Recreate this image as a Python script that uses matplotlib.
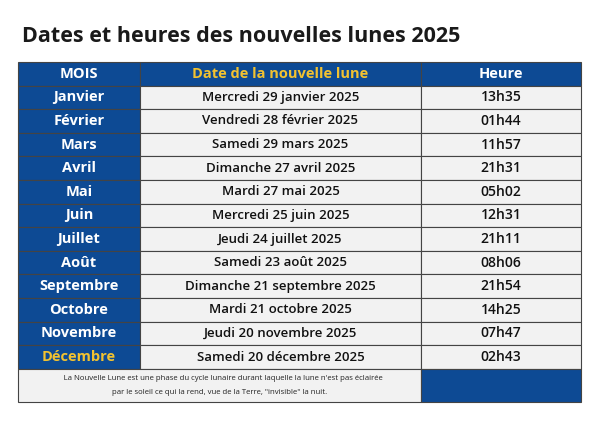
import matplotlib
matplotlib.use("Agg")
import matplotlib.pyplot as plt
from matplotlib.patches import Rectangle

mois = ["Janvier", "Février", "Mars", "Avril", "Mai", "Juin", "Juillet", "Août",
        "Septembre", "Octobre", "Novembre", "Décembre"]
dates = ["Mercredi 29 janvier 2025", "Vendredi 28 février 2025", "Samedi 29 mars 2025",
         "Dimanche 27 avril 2025", "Mardi 27 mai 2025", "Mercredi 25 juin 2025",
         "Jeudi 24 juillet 2025", "Samedi 23 août 2025", "Dimanche 21 septembre 2025",
         "Mardi 21 octobre 2025", "Jeudi 20 novembre 2025", "Samedi 20 décembre 2025"]
heures = ["13h35", "01h44", "11h57", "21h31", "05h02", "12h31", "21h11", "08h06",
          "21h54", "14h25", "07h47", "02h43"]

BLEU, JAUNE, GRIS = "#0D4A94", "#F2C230", "#F2F2F2"
FONT = "Open Sans"

fig = plt.figure(figsize=(6, 4.24), dpi=100)
ax = fig.add_axes([0, 0, 1, 1])
ax.set_xlim(0, 600); ax.set_ylim(424, 0); ax.axis("off")

ax.text(22, 36, "Dates et heures des nouvelles lunes 2025", fontsize=15.5,
        fontweight="bold", family=FONT, va="center", color="#1a1a1a")

x0, x1, x2, x3 = 18, 140, 421, 581
top, h = 62, 23.6

def cell(x, y, w, hh, fc):
    ax.add_patch(Rectangle((x, y), w, hh, fc=fc, ec="#444444", lw=0.8))

# en-tête
cell(x0, top, x1 - x0, h, BLEU); cell(x1, top, x2 - x1, h, BLEU); cell(x2, top, x3 - x2, h, BLEU)
yc = top + h / 2
ax.text((x0 + x1) / 2, yc, "MOIS", color="white", fontsize=10.5, fontweight="bold", family=FONT, ha="center", va="center")
ax.text((x1 + x2) / 2, yc, "Date de la nouvelle lune", color=JAUNE, fontsize=10.5, fontweight="bold", family=FONT, ha="center", va="center")
ax.text((x2 + x3) / 2, yc, "Heure", color="white", fontsize=10.5, fontweight="bold", family=FONT, ha="center", va="center")

for i, (m, d, hr) in enumerate(zip(mois, dates, heures)):
    y = top + h * (i + 1)
    cell(x0, y, x1 - x0, h, BLEU); cell(x1, y, x2 - x1, h, GRIS); cell(x2, y, x3 - x2, h, GRIS)
    yc = y + h / 2
    ax.text((x0 + x1) / 2, yc, m, color=JAUNE if m == "Décembre" else "white", fontsize=10.5,
            fontweight="bold", family=FONT, ha="center", va="center")
    ax.text((x1 + x2) / 2, yc, d, color="#111111", fontsize=9.5, fontweight="semibold", family=FONT, ha="center", va="center")
    ax.text((x2 + x3) / 2, yc, hr, color="#111111", fontsize=10, fontweight="semibold", family=FONT, ha="center", va="center")

yf = top + h * 13
hf = 402 - yf
cell(x0, yf, x2 - x0, hf, GRIS); cell(x2, yf, x3 - x2, hf, BLEU)
ax.text((x0 + x2) / 2, yf + hf * 0.3,
        "\u25CF La Nouvelle Lune est une phase du cycle lunaire durant laquelle la lune n'est pas éclairée",
        fontsize=5.6, family=FONT, ha="center", va="center", color="#222222")
ax.text((x0 + x2) / 2, yf + hf * 0.72,
        "par le soleil ce qui la rend, vue de la Terre, \"invisible\" la nuit.",
        fontsize=5.6, family=FONT, ha="center", va="center", color="#222222")

fig.savefig("out.png", dpi=100)
